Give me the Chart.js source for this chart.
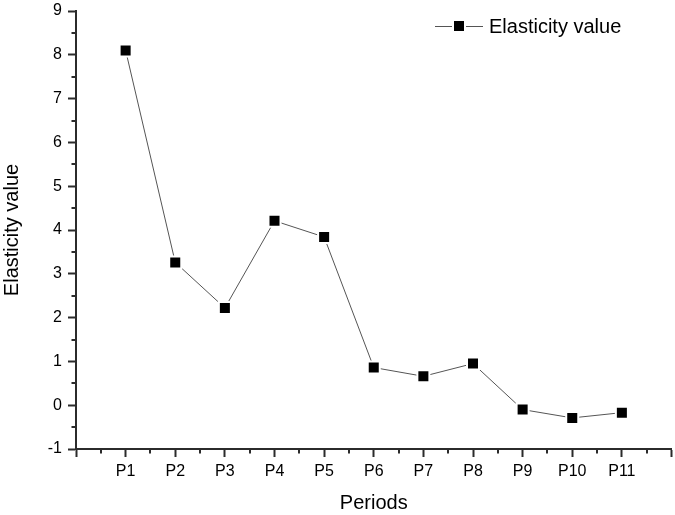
<!DOCTYPE html>
<html>
<head>
<meta charset="utf-8">
<script src="https://cdn.jsdelivr.net/npm/chart.js@4"></script>
<style>
  html, body { margin: 0; padding: 0; background: #fff; overflow: hidden; }
  /* a bit wider than the window: chart.js keeps a right margin we don't want */
  #wrap { width: 682px; height: 515px; }
</style>
</head>
<body>
<div id="wrap"><canvas id="chart"></canvas></div>
<script>
'use strict'
// periods on the x axis, P1 sits at x=1 (axis runs 0..12)
const periods = ['P1', 'P2', 'P3', 'P4', 'P5', 'P6', 'P7', 'P8', 'P9', 'P10', 'P11'];
const elasticity = [8.10, 3.26, 2.22, 4.21, 3.84, 0.86, 0.66, 0.95, -0.10, -0.29, -0.17];
const yTicks = [-1, 0, 1, 2, 3, 4, 5, 6, 7, 8, 9];

const axisColor = '#2b2b2b';
const fontFam = '"Liberation Sans", Arial, sans-serif';

// minor ticks at half steps, shorter than the major ones
const minorTicks = {
    id: 'minorTicks',
    afterDraw(chart){
        const ctx = chart.ctx;
        ctx.save();
        ctx.strokeStyle = axisColor;
        ctx.lineWidth = 2;
        const xs = chart.scales.x, ys = chart.scales.y;
        ctx.beginPath();
        for (let v = 0.5; v < 12; v += 1){
            const px = Math.round(xs.getPixelForValue(v));
            ctx.moveTo(px, xs.top); ctx.lineTo(px, xs.top + 4.5);
        }
        for (let v = -0.5; v < 9; v += 1){
            const py = Math.round(ys.getPixelForValue(v));
            ctx.moveTo(ys.right, py); ctx.lineTo(ys.right - 4.5, py);
        }
        ctx.stroke();
        ctx.restore();
    }
};

// legend like Origin: line - square - line, then the label, top right
const origenLegend = {
    id: 'origenLegend',
    afterDraw(chart){
        const ctx = chart.ctx;
        const ds = chart.data.datasets[0];
        const x0 = 435, yc = 26;
        ctx.save();
        ctx.strokeStyle = ds.borderColor;
        ctx.lineWidth = 1;
        ctx.beginPath();
        ctx.moveTo(x0, yc + 0.5); ctx.lineTo(x0 + 17, yc + 0.5);
        ctx.moveTo(x0 + 31, yc + 0.5); ctx.lineTo(x0 + 48, yc + 0.5);
        ctx.stroke();
        ctx.fillStyle = '#000';
        ctx.fillRect(x0 + 19, yc - 5, 10, 10);
        ctx.font = '20px ' + fontFam;
        ctx.textBaseline = 'middle';
        ctx.fillText(ds.label, x0 + 54, yc + 1);
        ctx.restore();
    }
};

const puntos = elasticity.map((v, i) => ({x: i + 1, y: v}));

const ctx = document.getElementById('chart').getContext('2d');
const myChart = new Chart(ctx, {
    type: 'line',
    data: {
        datasets: [{
            label: 'Elasticity value',
            data: puntos,
            borderColor: '#555',
            borderWidth: 1,
            pointStyle: 'rect',
            pointRadius: 8.5,
            pointHoverRadius: 8.5,
            pointBackgroundColor: '#000',
            pointBorderColor: '#fff',
            pointBorderWidth: 2,
            tension: 0
        }]
    },
    options: {
        responsive: true,
        maintainAspectRatio: false,
        animation: false,
        events: [],
        layout: { padding: { top: 11, right: 0, left: 0, bottom: 0 } },
        plugins: {
            tooltip: { enabled: false },
            legend: { display: false }
        },
        scales: {
            x: {
                type: 'linear',
                min: 0,
                max: 12,
                afterBuildTicks: s => { s.ticks = [0,1,2,3,4,5,6,7,8,9,10,11,12].map(v => ({value: v})); },
                afterFit: s => { s.height = 66; s.paddingLeft = 0; s.paddingRight = 0; },
                border: { color: axisColor, width: 2 },
                grid: { drawOnChartArea: false, tickLength: 8, tickColor: axisColor, tickWidth: 2 },
                ticks: {
                    autoSkip: false,
                    maxRotation: 0,
                    padding: 5,
                    color: '#000',
                    font: { family: fontFam, size: 16 },
                    callback: v => (v >= 1 && v <= periods.length) ? periods[v - 1] : ''
                },
                title: {
                    display: true,
                    text: 'Periods',
                    color: '#000',
                    font: { family: fontFam, size: 20 },
                    padding: { top: 4, bottom: 0 }
                }
            },
            y: {
                min: -1,
                max: 9,
                afterBuildTicks: s => { s.ticks = yTicks.map(v => ({value: v})); },
                afterFit: s => { s.width = 76; s.paddingTop = 0; s.paddingBottom = 0; },
                border: { color: axisColor, width: 2 },
                grid: { drawOnChartArea: false, tickLength: 8, tickColor: axisColor, tickWidth: 2 },
                ticks: {
                    padding: 6,
                    color: '#000',
                    font: { family: fontFam, size: 16 }
                },
                title: {
                    display: true,
                    text: 'Elasticity value',
                    color: '#000',
                    font: { family: fontFam, size: 20 },
                    padding: { top: 0, bottom: 0 }
                }
            }
        }
    },
    plugins: [minorTicks, origenLegend]
});
</script>
</body>
</html>
